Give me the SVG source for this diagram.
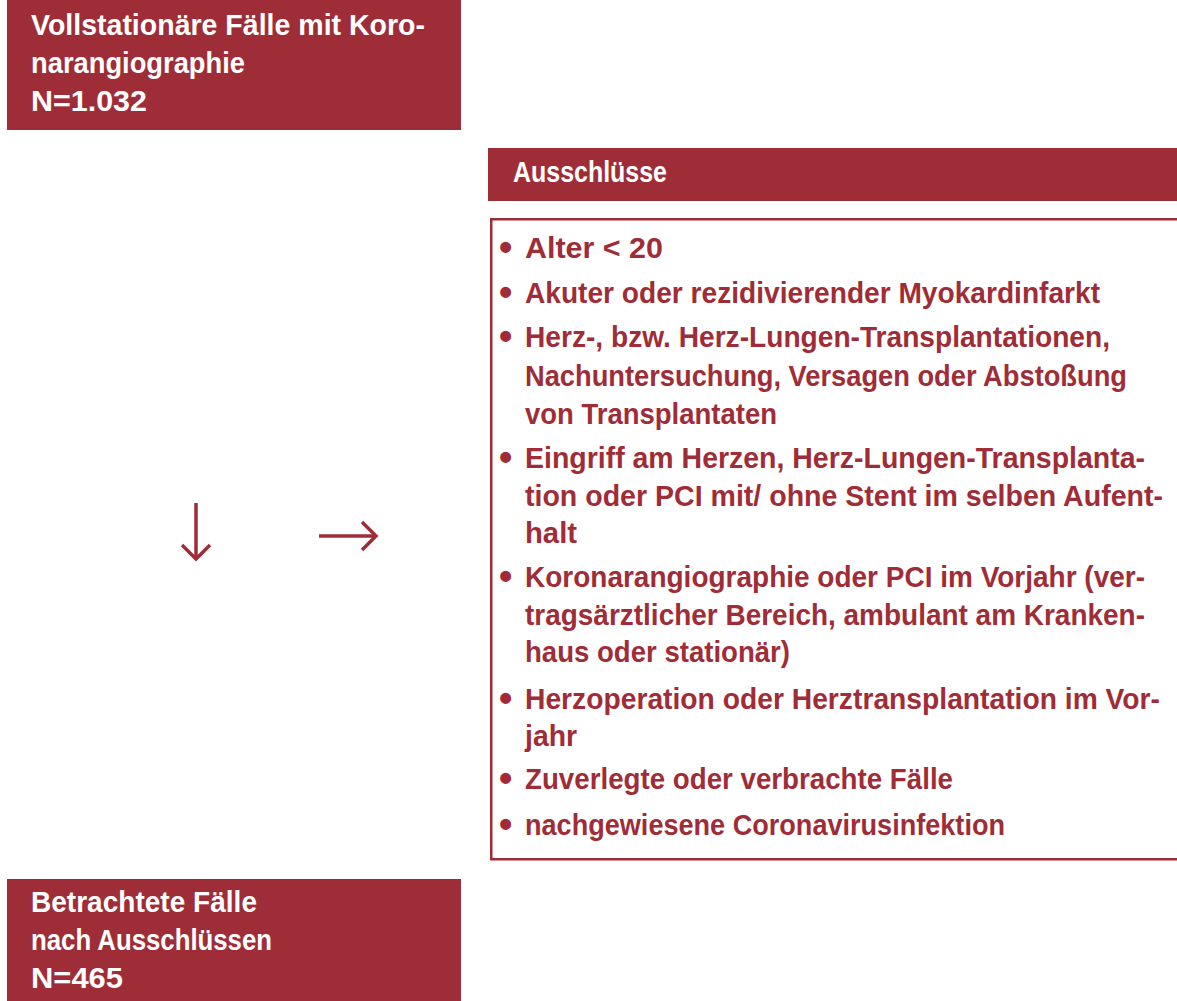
<svg xmlns="http://www.w3.org/2000/svg" width="1177" height="1001" viewBox="0 0 1177 1001">
  <defs>
    <style>
      .box { fill: #9f2d37; }
      .frame { fill: #ffffff; stroke: #9f2d37; stroke-width: 2.5; }
      .wt { fill: #ffffff; font-family: "Liberation Sans", Arial, sans-serif; font-weight: bold; font-size: 29px; }
      .rt { fill: #9f2d37; font-family: "Liberation Sans", Arial, sans-serif; font-weight: bold; font-size: 29px; }
      .bul { fill: #9f2d37; font-family: "Liberation Sans", Arial, sans-serif; font-weight: bold; font-size: 38px; }
      .arrow { fill: none; stroke: #9f2d37; stroke-width: 3.5; stroke-linecap: butt; stroke-linejoin: miter; }
    </style>
  </defs>
  <rect width="1177" height="1001" fill="#ffffff"/>

  <g id="node-start">
    <rect class="box" x="7" y="0" width="454" height="130"/>
    <text class="wt" x="31" y="35" textLength="394" lengthAdjust="spacingAndGlyphs">Vollstationäre Fälle mit Koro-</text>
    <text class="wt" x="31" y="73" textLength="214" lengthAdjust="spacingAndGlyphs">narangiographie</text>
    <text class="wt" x="31" y="111" textLength="116" lengthAdjust="spacingAndGlyphs">N=1.032</text>
  </g>

  <g id="node-exclusions-header">
    <rect class="box" x="488" y="148" width="689" height="53"/>
    <text class="wt" x="513" y="182" textLength="154" lengthAdjust="spacingAndGlyphs">Ausschlüsse</text>
  </g>

  <g id="node-exclusions-list">
    <rect class="frame" x="491.25" y="219.25" width="700" height="640"/>
    <text class="bul" x="499" y="260">•</text>
    <text class="rt" x="525" y="258" textLength="138" lengthAdjust="spacingAndGlyphs">Alter &lt; 20</text>
    <text class="bul" x="499" y="305">•</text>
    <text class="rt" x="525" y="303" textLength="575" lengthAdjust="spacingAndGlyphs">Akuter oder rezidivierender Myokardinfarkt</text>
    <text class="bul" x="499" y="349">•</text>
    <text class="rt" x="525" y="347" textLength="585" lengthAdjust="spacingAndGlyphs">Herz-, bzw. Herz-Lungen-Transplantationen,</text>
    <text class="rt" x="525" y="386" textLength="602" lengthAdjust="spacingAndGlyphs">Nachuntersuchung, Versagen oder Abstoßung</text>
    <text class="rt" x="525" y="424" textLength="252" lengthAdjust="spacingAndGlyphs">von Transplantaten</text>
    <text class="bul" x="499" y="470">•</text>
    <text class="rt" x="525" y="468" textLength="620" lengthAdjust="spacingAndGlyphs">Eingriff am Herzen, Herz-Lungen-Transplanta-</text>
    <text class="rt" x="525" y="506" textLength="638" lengthAdjust="spacingAndGlyphs">tion oder PCI mit/ ohne Stent im selben Aufent-</text>
    <text class="rt" x="525" y="543" textLength="52" lengthAdjust="spacingAndGlyphs">halt</text>
    <text class="bul" x="499" y="589">•</text>
    <text class="rt" x="525" y="587" textLength="620" lengthAdjust="spacingAndGlyphs">Koronarangiographie oder PCI im Vorjahr (ver-</text>
    <text class="rt" x="525" y="625" textLength="620" lengthAdjust="spacingAndGlyphs">tragsärztlicher Bereich, ambulant am Kranken-</text>
    <text class="rt" x="525" y="662" textLength="265" lengthAdjust="spacingAndGlyphs">haus oder stationär)</text>
    <text class="bul" x="499" y="711">•</text>
    <text class="rt" x="525" y="709" textLength="635" lengthAdjust="spacingAndGlyphs">Herzoperation oder Herztransplantation im Vor-</text>
    <text class="rt" x="525" y="746" textLength="52" lengthAdjust="spacingAndGlyphs">jahr</text>
    <text class="bul" x="499" y="791">•</text>
    <text class="rt" x="525" y="789" textLength="428" lengthAdjust="spacingAndGlyphs">Zuverlegte oder verbrachte Fälle</text>
    <text class="bul" x="499" y="837">•</text>
    <text class="rt" x="525" y="835" textLength="480" lengthAdjust="spacingAndGlyphs">nachgewiesene Coronavirusinfektion</text>
  </g>

  <g id="node-result">
    <rect class="box" x="7" y="879" width="454" height="122"/>
    <text class="wt" x="31" y="912" textLength="226" lengthAdjust="spacingAndGlyphs">Betrachtete Fälle</text>
    <text class="wt" x="31" y="950" textLength="241" lengthAdjust="spacingAndGlyphs">nach Ausschlüssen</text>
    <text class="wt" x="31" y="988" textLength="92" lengthAdjust="spacingAndGlyphs">N=465</text>
  </g>

  <g id="connectors">
    <path class="arrow" d="M196 503 V559"/>
    <path class="arrow" d="M182 545 L196 559 L210 545"/>
    <path class="arrow" d="M319 536 H376"/>
    <path class="arrow" d="M362 522 L376 536 L362 550"/>
  </g>
</svg>
